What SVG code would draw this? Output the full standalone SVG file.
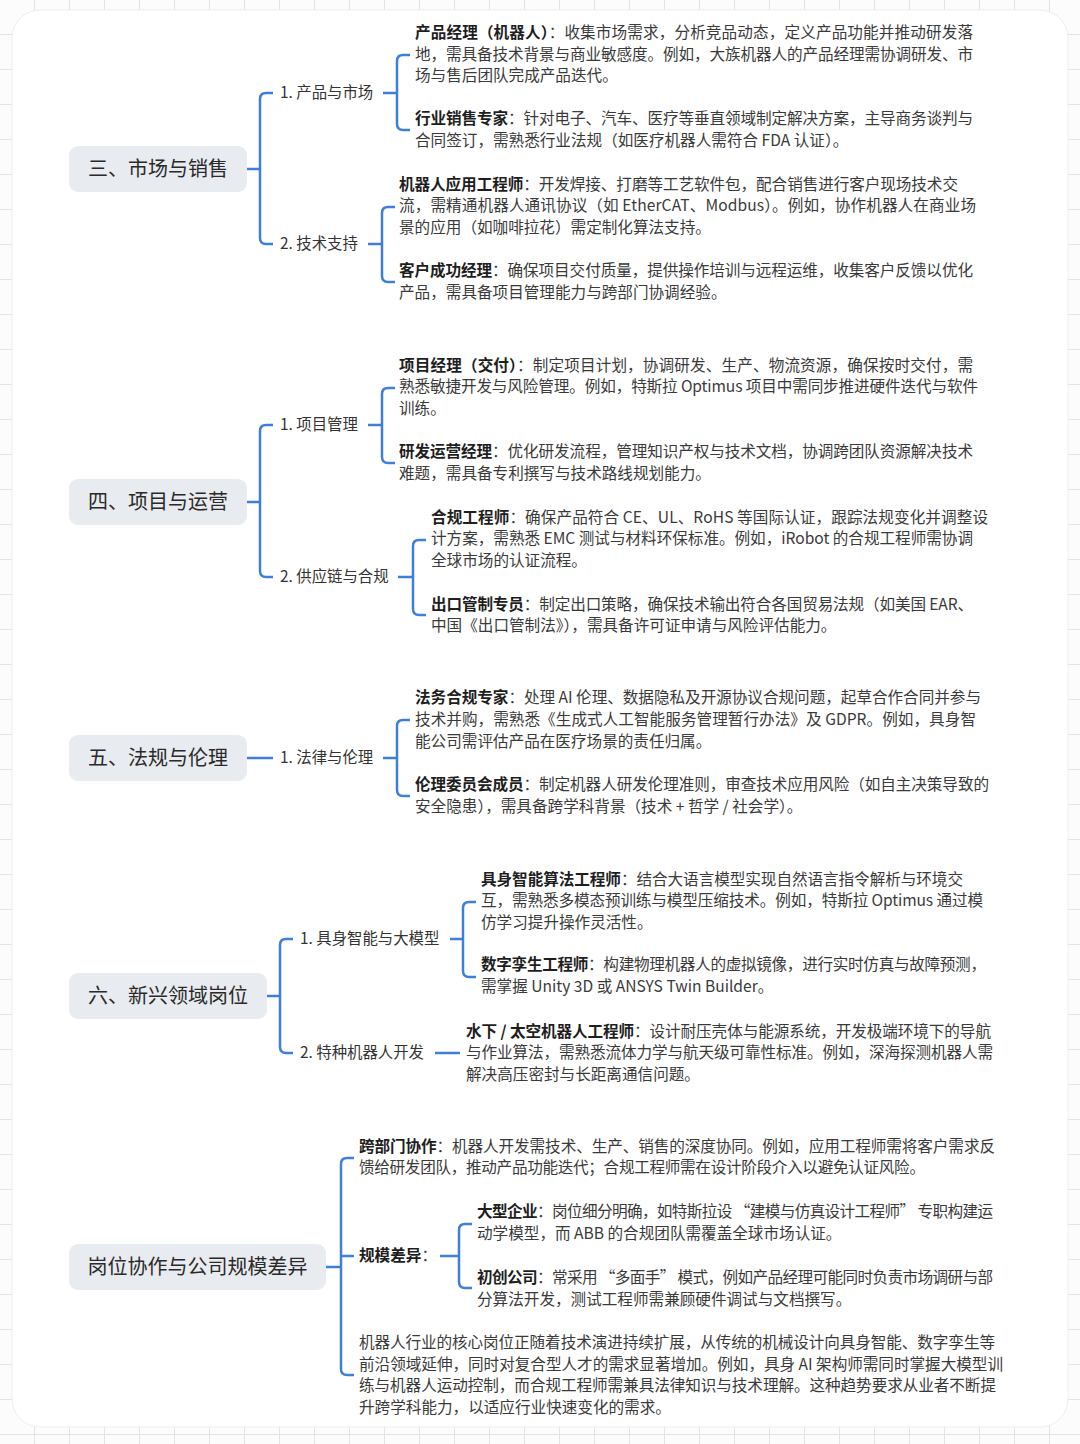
<svg xmlns="http://www.w3.org/2000/svg" width="1080" height="1444" viewBox="0 0 1080 1444">
<style>
text{font-family:"Noto Sans CJK SC","Noto Sans",sans-serif;}
.root rect{fill:#e8ebef;}
.root text{font-size:20px;fill:#2a2a2a;text-anchor:middle;}
.sub{font-size:15.4px;fill:#333;}
.body{font-size:15.6px;fill:#3a3a3a;}
.b{font-weight:700;fill:#1e1e1e;}
.conn path{fill:none;stroke:#3d7fdb;stroke-width:2.5;}
</style>
<defs>
<pattern id="grid" width="35" height="35" patternUnits="userSpaceOnUse">
<path d="M34.5,0 V35 M0,34.5 H35" fill="none" stroke="#e3e3e3" stroke-width="1"/>
</pattern>
</defs>
<rect width="1080" height="1444" fill="#fcfcfc"/>
<rect width="1080" height="1444" fill="url(#grid)"/>
<rect x="12" y="10" width="1056" height="1417" rx="28" fill="#ffffff" stroke="#ededed"/>

<g id="connectors" class="conn">
<path d="M247,169 H260"/>
<path d="M273,93 H266 Q260,93 260,99 V238 Q260,244 266,244 H273"/>
<path d="M383,93 H397"/>
<path d="M410,55 H403 Q397,55 397,61 V124 Q397,130 403,130 H410"/>
<path d="M368,244 H382"/>
<path d="M395,207 H388 Q382,207 382,213 V276 Q382,282 388,282 H395"/>

<path d="M247,502 H260"/>
<path d="M273,425 H266 Q260,425 260,431 V571 Q260,577 266,577 H273"/>
<path d="M368,425 H382"/>
<path d="M395,388 H388 Q382,388 382,394 V457 Q382,463 388,463 H395"/>
<path d="M398,577 H413"/>
<path d="M426,540 H419 Q413,540 413,546 V609 Q413,615 419,615 H426"/>

<path d="M247,758 H273"/>
<path d="M383,758 H397"/>
<path d="M410,720 H403 Q397,720 397,726 V790 Q397,796 403,796 H410"/>

<path d="M267,996 H280"/>
<path d="M293,939 H286 Q280,939 280,945 V1047 Q280,1053 286,1053 H293"/>
<path d="M450,939 H463"/>
<path d="M476,902 H469 Q463,902 463,908 V971 Q463,977 469,977 H476"/>
<path d="M435,1053 H460"/>

<path d="M326,1267 H341"/>
<path d="M354,1158 H347 Q341,1158 341,1164 V1369 Q341,1375 347,1375 H354"/>
<path d="M341,1256 H354"/>
<path d="M440,1256 H459"/>
<path d="M472,1224 H465 Q459,1224 459,1230 V1282 Q459,1288 465,1288 H472"/>
</g>

<!-- Section 3 -->
<g id="n-sec3" class="root"><rect x="69" y="146" width="178" height="46" rx="9"/><text x="158" y="176">三、市场与销售</text></g>
<g id="n-sec3-1"><text class="sub" x="280" y="98">1. 产品与市场</text></g>
<g id="n-sec3-2"><text class="sub" x="280" y="249">2. 技术支持</text></g>
<g id="n-pm"><text class="body" x="415" y="38" textLength="558" lengthAdjust="spacing"><tspan class="b">产品经理（机器人）</tspan>：收集市场需求，分析竞品动态，定义产品功能并推动研发落</text>
<text class="body" x="415" y="60" textLength="558" lengthAdjust="spacing">地，需具备技术背景与商业敏感度。例如，大族机器人的产品经理需协调研发、市</text>
<text class="body" x="415" y="81">场与售后团队完成产品迭代。</text></g>
<g id="n-sales"><text class="body" x="415" y="124" textLength="558" lengthAdjust="spacing"><tspan class="b">行业销售专家</tspan>：针对电子、汽车、医疗等垂直领域制定解决方案，主导商务谈判与</text>
<text class="body" x="415" y="146">合同签订，需熟悉行业法规（如医疗机器人需符合 FDA 认证）。</text></g>
<g id="n-appeng"><text class="body" x="399" y="190" textLength="559" lengthAdjust="spacing"><tspan class="b">机器人应用工程师</tspan>：开发焊接、打磨等工艺软件包，配合销售进行客户现场技术交</text>
<text class="body" x="399" y="211" textLength="577" lengthAdjust="spacing">流，需精通机器人通讯协议（如 EtherCAT、Modbus）。例如，协作机器人在商业场</text>
<text class="body" x="399" y="233">景的应用（如咖啡拉花）需定制化算法支持。</text></g>
<g id="n-csm"><text class="body" x="399" y="276" textLength="574" lengthAdjust="spacing"><tspan class="b">客户成功经理</tspan>：确保项目交付质量，提供操作培训与远程运维，收集客户反馈以优化</text>
<text class="body" x="399" y="298">产品，需具备项目管理能力与跨部门协调经验。</text></g>

<!-- Section 4 -->
<g id="n-sec4" class="root"><rect x="69" y="479" width="178" height="46" rx="9"/><text x="158" y="509">四、项目与运营</text></g>
<g id="n-sec4-1"><text class="sub" x="280" y="430">1. 项目管理</text></g>
<g id="n-sec4-2"><text class="sub" x="280" y="582">2. 供应链与合规</text></g>
<g id="n-projm"><text class="body" x="399" y="371" textLength="574" lengthAdjust="spacing"><tspan class="b">项目经理（交付）</tspan>：制定项目计划，协调研发、生产、物流资源，确保按时交付，需</text>
<text class="body" x="399" y="392" textLength="579" lengthAdjust="spacing">熟悉敏捷开发与风险管理。例如，特斯拉 Optimus 项目中需同步推进硬件迭代与软件</text>
<text class="body" x="399" y="414">训练。</text></g>
<g id="n-rdops"><text class="body" x="399" y="457" textLength="574" lengthAdjust="spacing"><tspan class="b">研发运营经理</tspan>：优化研发流程，管理知识产权与技术文档，协调跨团队资源解决技术</text>
<text class="body" x="399" y="479">难题，需具备专利撰写与技术路线规划能力。</text></g>
<g id="n-comp"><text class="body" x="431" y="523" textLength="557" lengthAdjust="spacing"><tspan class="b">合规工程师</tspan>：确保产品符合 CE、UL、RoHS 等国际认证，跟踪法规变化并调整设</text>
<text class="body" x="431" y="544" textLength="542" lengthAdjust="spacing">计方案，需熟悉 EMC 测试与材料环保标准。例如，iRobot 的合规工程师需协调</text>
<text class="body" x="431" y="566">全球市场的认证流程。</text></g>
<g id="n-export"><text class="body" x="431" y="610" textLength="542" lengthAdjust="spacing"><tspan class="b">出口管制专员</tspan>：制定出口策略，确保技术输出符合各国贸易法规（如美国 EAR、</text>
<text class="body" x="431" y="631">中国《出口管制法》），需具备许可证申请与风险评估能力。</text></g>

<!-- Section 5 -->
<g id="n-sec5" class="root"><rect x="69" y="735" width="178" height="46" rx="9"/><text x="158" y="765">五、法规与伦理</text></g>
<g id="n-sec5-1"><text class="sub" x="280" y="763">1. 法律与伦理</text></g>
<g id="n-legal"><text class="body" x="415" y="703" textLength="566" lengthAdjust="spacing"><tspan class="b">法务合规专家</tspan>：处理 AI 伦理、数据隐私及开源协议合规问题，起草合作合同并参与</text>
<text class="body" x="415" y="725" textLength="561" lengthAdjust="spacing">技术并购，需熟悉《生成式人工智能服务管理暂行办法》及 GDPR。例如，具身智</text>
<text class="body" x="415" y="747">能公司需评估产品在医疗场景的责任归属。</text></g>
<g id="n-ethics"><text class="body" x="415" y="790" textLength="574" lengthAdjust="spacing"><tspan class="b">伦理委员会成员</tspan>：制定机器人研发伦理准则，审查技术应用风险（如自主决策导致的</text>
<text class="body" x="415" y="812">安全隐患），需具备跨学科背景（技术 + 哲学 / 社会学）。</text></g>

<!-- Section 6 -->
<g id="n-sec6" class="root"><rect x="69" y="973" width="198" height="46" rx="9"/><text x="168" y="1003">六、新兴领域岗位</text></g>
<g id="n-sec6-1"><text class="sub" x="300" y="944">1. 具身智能与大模型</text></g>
<g id="n-sec6-2"><text class="sub" x="300" y="1058">2. 特种机器人开发</text></g>
<g id="n-embodied"><text class="body" x="481" y="885" textLength="482" lengthAdjust="spacing"><tspan class="b">具身智能算法工程师</tspan>：结合大语言模型实现自然语言指令解析与环境交</text>
<text class="body" x="481" y="906" textLength="502" lengthAdjust="spacing">互，需熟悉多模态预训练与模型压缩技术。例如，特斯拉 Optimus 通过模</text>
<text class="body" x="481" y="928">仿学习提升操作灵活性。</text></g>
<g id="n-twin"><text class="body" x="481" y="970" textLength="505" lengthAdjust="spacing"><tspan class="b">数字孪生工程师</tspan>：构建物理机器人的虚拟镜像，进行实时仿真与故障预测，</text>
<text class="body" x="481" y="992">需掌握 Unity 3D 或 ANSYS Twin Builder。</text></g>
<g id="n-special"><text class="body" x="466" y="1037" textLength="525" lengthAdjust="spacing"><tspan class="b">水下 / 太空机器人工程师</tspan>：设计耐压壳体与能源系统，开发极端环境下的导航</text>
<text class="body" x="466" y="1058" textLength="527" lengthAdjust="spacing">与作业算法，需熟悉流体力学与航天级可靠性标准。例如，深海探测机器人需</text>
<text class="body" x="466" y="1080">解决高压密封与长距离通信问题。</text></g>

<!-- Section 7 -->
<g id="n-sec7" class="root"><rect x="69" y="1244" width="257" height="46" rx="9"/><text x="197.5" y="1274">岗位协作与公司规模差异</text></g>
<g id="n-cross"><text class="body" x="359" y="1152" textLength="636" lengthAdjust="spacing"><tspan class="b">跨部门协作</tspan>：机器人开发需技术、生产、销售的深度协同。例如，应用工程师需将客户需求反</text>
<text class="body" x="359" y="1173" textLength="566" lengthAdjust="spacing">馈给研发团队，推动产品功能迭代；合规工程师需在设计阶段介入以避免认证风险。</text></g>
<g id="n-scale"><text class="body" x="359" y="1261"><tspan class="b">规模差异</tspan>：</text></g>
<g id="n-large"><text class="body" x="477" y="1217" textLength="516" lengthAdjust="spacing"><tspan class="b">大型企业</tspan>：岗位细分明确，如特斯拉设 “建模与仿真设计工程师” 专职构建运</text>
<text class="body" x="477" y="1239">动学模型，而 ABB 的合规团队需覆盖全球市场认证。</text></g>
<g id="n-startup"><text class="body" x="477" y="1283" textLength="516" lengthAdjust="spacing"><tspan class="b">初创公司</tspan>：常采用 “多面手” 模式，例如产品经理可能同时负责市场调研与部</text>
<text class="body" x="477" y="1305">分算法开发，测试工程师需兼顾硬件调试与文档撰写。</text></g>
<g id="n-summary"><text class="body" x="359" y="1348" textLength="636" lengthAdjust="spacing">机器人行业的核心岗位正随着技术演进持续扩展，从传统的机械设计向具身智能、数字孪生等</text>
<text class="body" x="359" y="1370" textLength="644" lengthAdjust="spacing">前沿领域延伸，同时对复合型人才的需求显著增加。例如，具身 AI 架构师需同时掌握大模型训</text>
<text class="body" x="359" y="1391" textLength="637" lengthAdjust="spacing">练与机器人运动控制，而合规工程师需兼具法律知识与技术理解。这种趋势要求从业者不断提</text>
<text class="body" x="359" y="1413">升跨学科能力，以适应行业快速变化的需求。</text></g>
</svg>
